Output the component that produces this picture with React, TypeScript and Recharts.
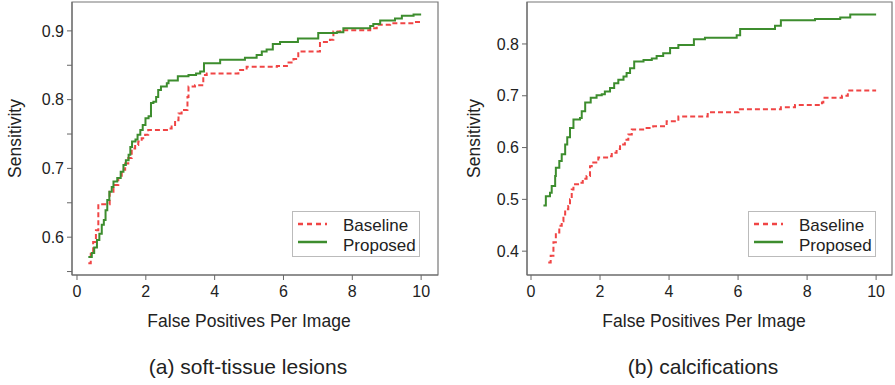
import { LineChart, Line, XAxis, YAxis, ReferenceArea, Legend } from 'recharts'

const FONT = '"Liberation Sans", Arial, Helvetica, sans-serif'
const RED = '#f04545'
const GREEN = '#3d8d2e'

const xTicks = [0, 2, 4, 6, 8, 10]
const softYTicks = [0.55, 0.6, 0.65, 0.7, 0.75, 0.8, 0.85, 0.9]
const calcYTicks = [0.4, 0.5, 0.6, 0.7, 0.8]

// (a) soft-tissue lesions
const softBaselineFp = [0.33, 0.4, 0.47, 0.55, 0.62, 0.95, 1.06, 1.2, 1.3, 1.4, 1.49, 1.59, 1.69, 1.78, 1.88, 1.98, 2.07, 2.65, 2.75, 2.85, 2.95, 3.04, 3.21, 3.24, 3.43, 3.67, 3.77, 4.69, 4.93, 5.81, 6.1, 6.29, 6.43, 7.06, 7.35, 7.45, 7.65, 8.52, 8.71, 9.1, 9.78, 9.97, 10.0]
const softBaselineSens = [0.562, 0.576, 0.593, 0.61, 0.648, 0.666, 0.676, 0.686, 0.698, 0.707, 0.715, 0.729, 0.734, 0.739, 0.744, 0.749, 0.756, 0.758, 0.761, 0.77, 0.78, 0.785, 0.804, 0.819, 0.821, 0.836, 0.838, 0.843, 0.848, 0.849, 0.854, 0.859, 0.87, 0.884, 0.887, 0.899, 0.901, 0.904, 0.909, 0.911, 0.913, 0.915, 0.915]
const softProposedFp = [0.33, 0.43, 0.5, 0.58, 0.65, 0.72, 0.78, 0.83, 0.88, 0.94, 1.01, 1.06, 1.17, 1.27, 1.35, 1.42, 1.5, 1.55, 1.6, 1.7, 1.76, 1.84, 1.91, 1.99, 2.08, 2.15, 2.22, 2.3, 2.36, 2.44, 2.61, 2.66, 2.93, 3.24, 3.46, 3.58, 3.69, 4.16, 4.88, 5.22, 5.37, 5.51, 5.69, 5.9, 6.42, 7.01, 7.55, 7.74, 8.52, 8.61, 8.81, 9.24, 9.44, 9.78, 10.0]
const softProposedSens = [0.571, 0.577, 0.585, 0.596, 0.605, 0.618, 0.625, 0.639, 0.654, 0.666, 0.673, 0.681, 0.686, 0.695, 0.705, 0.712, 0.72, 0.731, 0.739, 0.742, 0.749, 0.756, 0.763, 0.773, 0.776, 0.795, 0.797, 0.804, 0.814, 0.819, 0.824, 0.828, 0.834, 0.836, 0.838, 0.841, 0.853, 0.858, 0.861, 0.865, 0.87, 0.873, 0.881, 0.884, 0.889, 0.897, 0.898, 0.904, 0.907, 0.91, 0.915, 0.918, 0.922, 0.924, 0.924]

// (b) calcifications
const calcBaselineFp = [0.5, 0.57, 0.65, 0.72, 0.82, 0.89, 0.94, 0.99, 1.08, 1.13, 1.18, 1.23, 1.42, 1.5, 1.61, 1.71, 1.76, 1.95, 2.24, 2.34, 2.48, 2.58, 2.72, 2.82, 2.92, 3.35, 3.54, 3.93, 4.27, 5.12, 6.01, 7.24, 7.65, 8.43, 8.47, 9.01, 9.18, 10.0]
const calcBaselineSens = [0.378, 0.391, 0.417, 0.436, 0.449, 0.458, 0.471, 0.481, 0.487, 0.5, 0.519, 0.529, 0.532, 0.54, 0.545, 0.564, 0.571, 0.581, 0.583, 0.59, 0.597, 0.606, 0.615, 0.625, 0.635, 0.638, 0.641, 0.651, 0.66, 0.668, 0.674, 0.678, 0.682, 0.687, 0.696, 0.7, 0.71, 0.71]
const calcProposedFp = [0.36, 0.43, 0.55, 0.6, 0.7, 0.72, 0.82, 0.89, 0.99, 1.05, 1.13, 1.23, 1.42, 1.47, 1.57, 1.73, 1.9, 2.05, 2.14, 2.29, 2.41, 2.53, 2.68, 2.77, 2.87, 2.99, 3.26, 3.5, 3.64, 3.83, 4.03, 4.27, 4.72, 5.04, 5.96, 6.06, 7.07, 7.24, 8.23, 8.96, 9.25, 10.0]
const calcProposedSens = [0.488, 0.506, 0.513, 0.526, 0.545, 0.561, 0.574, 0.587, 0.606, 0.62, 0.638, 0.654, 0.657, 0.67, 0.687, 0.696, 0.701, 0.703, 0.708, 0.715, 0.724, 0.731, 0.737, 0.744, 0.753, 0.766, 0.769, 0.772, 0.777, 0.782, 0.792, 0.798, 0.809, 0.812, 0.817, 0.829, 0.835, 0.846, 0.848, 0.851, 0.857, 0.857]

const zip = (xs: number[], ys: number[]) => xs.map((x, i) => ({ x, y: ys[i] }))

const LegendBox = ({ payload }: any) => (
  <svg width={128} height={46} style={{ display: 'block', fontFamily: FONT }}>
    <rect x={0.5} y={0.5} width={127} height={45} fill="#fff" stroke="#bbb" />
    {(payload || []).map((p: any, i: number) => (
      <g key={p.value}>
        <line
          x1={6} x2={35} y1={13 + i * 18} y2={13 + i * 18}
          stroke={p.color} strokeWidth={2.5}
          strokeDasharray={p.value === 'Baseline' ? '5 4' : undefined}
        />
        <text x={51} y={19.5 + i * 20} fontSize={17} fill="#222">{p.value}</text>
      </g>
    ))}
  </svg>
)

type PanelProps = {
  width: number
  yAxisWidth: number
  right: number
  xDomain: [number, number]
  yDomain: [number, number]
  yTicks: number[]
  minorTicks: boolean
  baseline: { x: number; y: number }[]
  proposed: { x: number; y: number }[]
  legendLeft: number
  yLabelOffset: number
}

const Panel = (p: PanelProps) => (
  <LineChart width={p.width} height={300} margin={{ top: 2, right: p.right, bottom: 0, left: 0 }}>
    <XAxis
      type="number" dataKey="x" domain={p.xDomain} ticks={xTicks} allowDataOverflow
      height={25} tickSize={5} tickMargin={6}
      tick={{ fontSize: 16, fill: '#222', fontFamily: FONT }}
      axisLine={{ stroke: '#666' }} tickLine={{ stroke: '#666' }}
    />
    <YAxis
      type="number" domain={p.yDomain} ticks={p.yTicks} allowDataOverflow
      width={p.yAxisWidth} tickSize={5} tickMargin={3}
      tickFormatter={(v: number) => (p.minorTicks && Math.round(v * 100) % 10 !== 0 ? '' : v.toFixed(1))}
      tick={{ fontSize: 16, fill: '#222', fontFamily: FONT }}
      axisLine={{ stroke: '#666' }} tickLine={{ stroke: '#666' }}
      label={{
        value: 'Sensitivity', angle: -90, position: 'insideLeft', offset: p.yLabelOffset,
        style: { textAnchor: 'middle', fontSize: 17.5, fill: '#222', fontFamily: FONT },
      }}
    />
    <ReferenceArea
      x1={p.xDomain[0]} x2={p.xDomain[1]} y1={p.yDomain[0]} y2={p.yDomain[1]}
      fill="none" stroke="#777" strokeWidth={1.2} ifOverflow="visible"
    />
    <Line
      data={p.baseline} dataKey="y" name="Baseline" type="stepAfter"
      stroke={RED} strokeWidth={2} strokeDasharray="5 3" dot={false} isAnimationActive={false}
    />
    <Line
      data={p.proposed} dataKey="y" name="Proposed" type="stepAfter"
      stroke={GREEN} strokeWidth={2} dot={false} isAnimationActive={false}
    />
    <Legend
      layout="horizontal" verticalAlign="middle" align="center"
      content={<LegendBox />}
      wrapperStyle={{ left: p.legendLeft, top: 211, width: 128, height: 46 }}
    />
  </LineChart>
)

const textStyle = (left: number, top: number, size: number): React.CSSProperties => ({
  position: 'absolute', left, top, width: 0, whiteSpace: 'nowrap', display: 'flex',
  justifyContent: 'center', fontSize: size, color: '#222', fontFamily: FONT, lineHeight: 1,
})

const App = () => (
  <div style={{ position: 'absolute', left: 0, top: 0, width: 895, height: 385, background: '#fff', overflow: 'hidden' }}>
    <div style={{ position: 'absolute', left: 0, top: 0 }}>
      <Panel
        width={450} yAxisWidth={72} right={12}
        xDomain={[-0.145, 10.49]} yDomain={[0.545, 0.942]} yTicks={softYTicks} minorTicks
        baseline={zip(softBaselineFp, softBaselineSens)} proposed={zip(softProposedFp, softProposedSens)}
        legendLeft={292} yLabelOffset={15}
      />
    </div>
    <div style={{ position: 'absolute', left: 450, top: 0 }}>
      <Panel
        width={445} yAxisWidth={77} right={3}
        xDomain={[-0.116, 10.46]} yDomain={[0.354, 0.881]} yTicks={calcYTicks} minorTicks={false}
        baseline={zip(calcBaselineFp, calcBaselineSens)} proposed={zip(calcProposedFp, calcProposedSens)}
        legendLeft={298} yLabelOffset={24}
      />
    </div>
    <div style={textStyle(249, 313, 17.5)}>False Positives Per Image</div>
    <div style={textStyle(704, 313, 17.5)}>False Positives Per Image</div>
    <div style={textStyle(248, 356, 21)}>(a) soft-tissue lesions</div>
    <div style={textStyle(703, 356, 21)}>(b) calcifications</div>
  </div>
)

export default App
